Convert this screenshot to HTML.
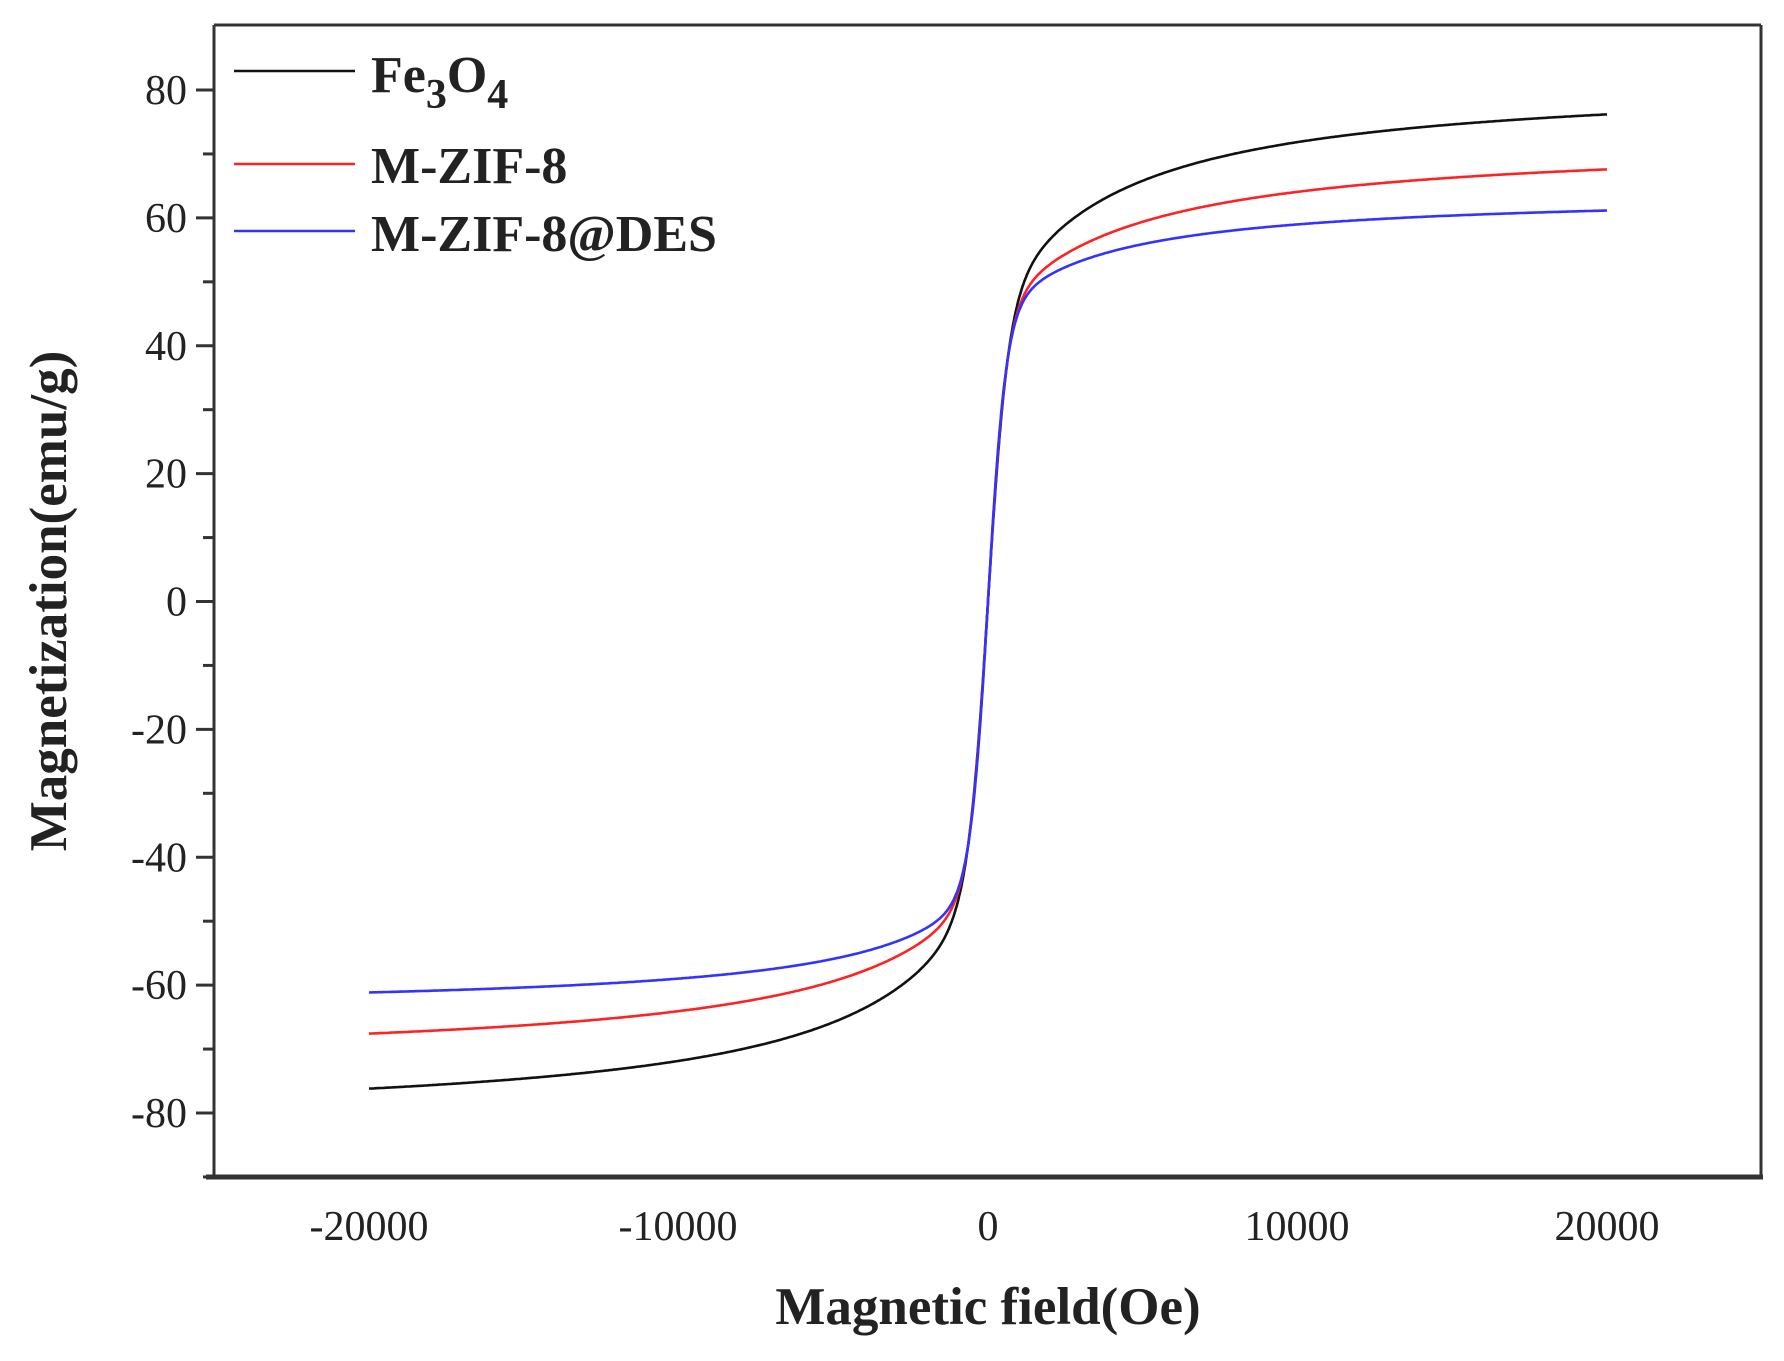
<!DOCTYPE html>
<html><head><meta charset="utf-8"><style>
html,body{margin:0;padding:0;background:#fff;}
svg{display:block;}
text{font-family:"Liberation Serif",serif;fill:#222;}
</style></head><body>
<svg id="s" width="1784" height="1361" viewBox="0 0 1784 1361" xmlns="http://www.w3.org/2000/svg">
<rect width="1784" height="1361" fill="#fff"/>
<g id="curves" fill="none" stroke-width="2.6"></g>
<line x1="214" y1="25" x2="1761" y2="25" stroke="#333" stroke-width="3"/>
<line x1="214" y1="25" x2="214" y2="1178" stroke="#333" stroke-width="3"/>
<line x1="1761" y1="25" x2="1761" y2="1178" stroke="#333" stroke-width="3"/>
<line x1="206" y1="1177" x2="1763" y2="1177" stroke="#333" stroke-width="5"/>
<g id="ticks" stroke="#333" stroke-width="3"></g>
<g id="ylab" font-size="42" text-anchor="end"></g>
<g font-size="42" text-anchor="middle">
<text x="369" y="1240">-20000</text>
<text x="678" y="1240">-10000</text>
<text x="988" y="1240">0</text>
<text x="1297" y="1240">10000</text>
<text x="1607" y="1240">20000</text>
</g>
<text x="988" y="1324" font-size="53" font-weight="bold" text-anchor="middle">Magnetic field(Oe)</text>
<text transform="translate(66,601) rotate(-90)" font-size="53" font-weight="bold" text-anchor="middle">Magnetization(emu/g)</text>
<line x1="234" y1="71" x2="355" y2="71" stroke="#111" stroke-width="2.6"/>
<line x1="234" y1="164" x2="355" y2="164" stroke="#f22" stroke-width="2.6"/>
<line x1="234" y1="231" x2="355" y2="231" stroke="#33f" stroke-width="2.6"/>
<g font-size="52" font-weight="bold">
<text x="371" y="92">Fe<tspan font-size="42" dy="16">3</tspan><tspan dy="-16">O</tspan><tspan font-size="42" dy="16">4</tspan></text>
<text x="371" y="183">M-ZIF-8</text>
<text x="371" y="251">M-ZIF-8@DES</text>
</g>
</svg>
<script>
(function(){
var ns="http://www.w3.org/2000/svg";
function X(x){return 988+x*(1607-369)/40000;}
function Y(m){return 601.5-m*(601.5-90)/80;}
var sets=[
 {c:"#111",a:42,w:650,b:40,h:3400},
 {c:"#f22",a:43,w:600,b:29.5,h:4000},
 {c:"#33f",a:43,w:580,b:21,h:3142}];
var g=document.getElementById("curves");
sets.forEach(function(s){
 var d="";
 for(var i=0;i<=800;i++){
  var t=-1+2*i/800; var x=20000*Math.sign(t)*Math.pow(Math.abs(t),1.6);
  var m=s.a*Math.tanh(x/s.w)+s.b*x/(Math.abs(x)+s.h);
  d+=(i?"L":"M")+X(x).toFixed(1)+","+Y(m).toFixed(1);
 }
 var p=document.createElementNS(ns,"path");p.setAttribute("d",d);p.setAttribute("stroke",s.c);g.appendChild(p);
});
var tk=document.getElementById("ticks"),yl=document.getElementById("ylab");
for(var v=-90;v<=80;v+=10){
 var y=Y(v),l=document.createElementNS(ns,"line");
 var major=(v%20===0);
 l.setAttribute("x1",major?196:203);l.setAttribute("x2",214);l.setAttribute("y1",y);l.setAttribute("y2",y);tk.appendChild(l);
 if(major){var t=document.createElementNS(ns,"text");t.setAttribute("x",187);t.setAttribute("y",y+14);t.textContent=v;yl.appendChild(t);}
}
})();
</script>
</body></html>
